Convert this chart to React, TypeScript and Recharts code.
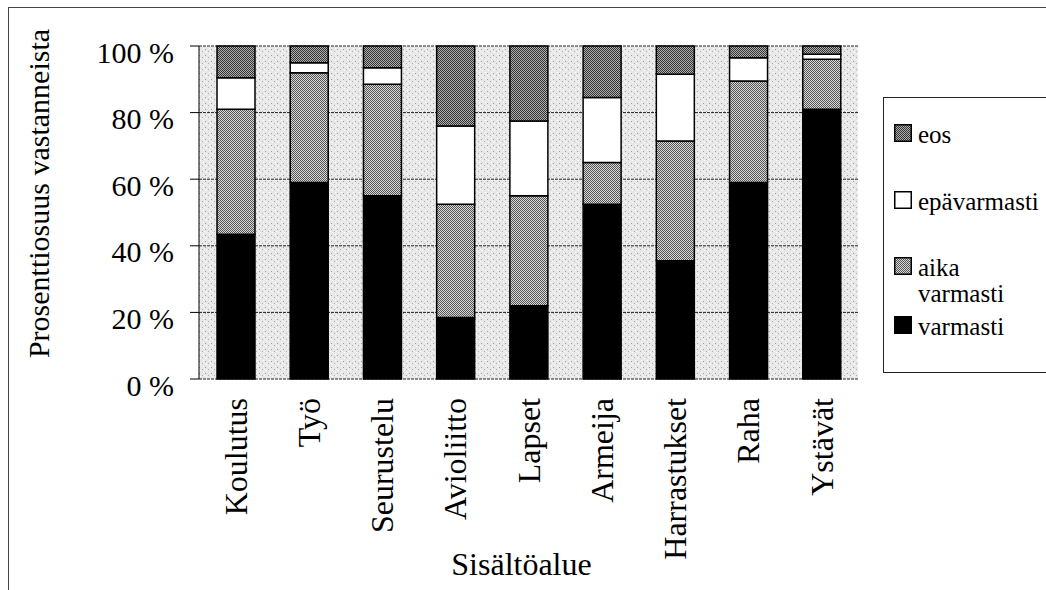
import React from "react";
import { Bar, BarChart, CartesianGrid, Label, Legend, ReferenceLine, XAxis, YAxis } from "recharts";

// Values (percent of respondents)
const categories = ["Koulutus", "Työ", "Seurustelu", "Avioliitto", "Lapset", "Armeija", "Harrastukset", "Raha", "Ystävät"];
const varmasti = [43.5, 59, 55, 18.5, 22, 52.5, 35.5, 59, 81];
const aikaVarmasti = [37.5, 33, 33.5, 34, 33, 12.5, 36, 30.5, 15];
const epavarmasti = [9.5, 3, 5, 23.5, 22.5, 19.5, 20, 7, 1.5];
const eos = [9.5, 5, 6.5, 24, 22.5, 15.5, 8.5, 3.5, 2.5];

const yTicks = [0, 20, 40, 60, 80, 100];
const boundaryTicks = [0, 1, 2, 3, 4, 5, 6, 7, 8, 9];
const legendOrder = ["eos", "epävarmasti", "aika varmasti", "varmasti"];

const FONT = "'Liberation Serif', 'Times New Roman', serif";

const data = categories.map((name, i) => ({
    name,
    varmasti: varmasti[i],
    aika: aikaVarmasti[i],
    epa: epavarmasti[i],
    eos: eos[i],
}));

// vertical centre of each legend row inside the box
const legendRowY = [36, 103, 169, 228];

function XTick({ x, y, payload }: any) {
    return (
        <text
            x={x}
            y={y}
            transform={`rotate(-90 ${x} ${y})`}
            textAnchor="end"
            dy="0.35em"
            fontSize={32}
            fontFamily={FONT}
            fill="#000"
        >
            {payload.value}
        </text>
    );
}

function YTick({ x, y, payload }: any) {
    return (
        <text x={x} y={y + 6} textAnchor="end" dy="0.35em" fontSize={30} fontFamily={FONT} fill="#000">
            {`${payload.value} %`}
        </text>
    );
}

function LegendBox({ payload }: any) {
    const items = [...(payload || [])].sort((a: any, b: any) => legendOrder.indexOf(a.value) - legendOrder.indexOf(b.value));
    return (
        <svg width={198} height={274} style={{ display: "block" }}>
            {items.map((item: any, i: number) => {
                const cy = legendRowY[i];
                const words = item.value === "aika varmasti" ? ["aika", "varmasti"] : [item.value];
                return (
                    <g key={item.value}>
                        <rect x={10.75} y={cy - 9.25} width={16.5} height={16.5} fill={item.payload.fill} stroke="#000" strokeWidth={1.5} />
                        {words.map((w, j) => (
                            <text key={w} x={34} y={cy + j * 26} dy="0.35em" fontSize={25} fontFamily={FONT} fill="#000">
                                {w}
                            </text>
                        ))}
                    </g>
                );
            })}
        </svg>
    );
}

export default function App() {
    return (
        <div style={{ position: "absolute", left: 0, top: 0, width: 1046, height: 590, overflow: "hidden", background: "#fff" }}>
            <div style={{ position: "absolute", left: 8, top: 7, width: 1100, height: 700, borderLeft: "1px solid #444", borderTop: "1px solid #444" }} />
            <BarChart
                width={1046}
                height={590}
                data={data}
                margin={{ top: 46, right: 188, bottom: 21, left: 0 }}
                barSize={38}
            >
                <defs>
                    <pattern id="speckle" width={6} height={6} patternUnits="userSpaceOnUse">
                        <rect width={6} height={6} fill="#e8e8e8" />
                        <rect x={1} y={1} width={1} height={1} fill="#a0a0a0" />
                        <rect x={4} y={3} width={1} height={1} fill="#b0b0b0" />
                        <rect x={2} y={4} width={1} height={1} fill="#ffffff" />
                        <rect x={5} y={0} width={1} height={1} fill="#ffffff" />
                        <rect x={0} y={3} width={1} height={1} fill="#f8f8f8" />
                    </pattern>
                    <pattern id="checkLight" width={2} height={2} patternUnits="userSpaceOnUse">
                        <rect width={2} height={2} fill="#d8d8d8" />
                        <rect x={0} y={0} width={1} height={1} fill="#555" />
                        <rect x={1} y={1} width={1} height={1} fill="#555" />
                    </pattern>
                    <pattern id="checkDark" width={2} height={2} patternUnits="userSpaceOnUse">
                        <rect width={2} height={2} fill="#b0b0b0" />
                        <rect x={0} y={0} width={1} height={1} fill="#333" />
                        <rect x={1} y={1} width={1} height={1} fill="#333" />
                    </pattern>
                </defs>
                <CartesianGrid
                    vertical={false}
                    fill="url(#speckle)"
                    stroke="#222"
                    strokeDasharray="3 1"
                    horizontalValues={yTicks}
                />
                <XAxis
                    xAxisId="grid"
                    type="number"
                    domain={[0, 9]}
                    allowDataOverflow
                    ticks={boundaryTicks}
                    tick={false}
                    tickSize={8}
                    height={0}
                    axisLine={{ stroke: "#000" }}
                    tickLine={{ stroke: "#000" }}
                />
                <XAxis
                    dataKey="name"
                    height={190}
                    axisLine={false}
                    tickLine={false}
                    tickSize={0}
                    tickMargin={19}
                    interval={0}
                    tick={<XTick />}
                >
                    <Label
                        content={({ viewBox }: any) => (
                            <text
                                x={viewBox.x + viewBox.width / 2 - 7}
                                y={viewBox.y + 196}
                                textAnchor="middle"
                                fontSize={32}
                                fontFamily={FONT}
                                fill="#000"
                            >
                                Sisältöalue
                            </text>
                        )}
                    />
                </XAxis>
                <YAxis
                    width={199}
                    domain={[0, 100]}
                    ticks={yTicks}
                    interval={0}
                    tickSize={9}
                    tickMargin={16}
                    axisLine={{ stroke: "#000" }}
                    tickLine={{ stroke: "#000" }}
                    tick={<YTick />}
                >
                    <Label
                        content={({ viewBox }: any) => {
                            const cx = 38;
                            const cy = viewBox.y + viewBox.height / 2 - 19;
                            return (
                                <text
                                    x={cx}
                                    y={cy}
                                    transform={`rotate(-90 ${cx} ${cy})`}
                                    textAnchor="middle"
                                    dy="0.35em"
                                    fontSize={30}
                                    fontFamily={FONT}
                                    fill="#000"
                                >
                                    Prosenttiosuus vastanneista
                                </text>
                            );
                        }}
                    />
                </YAxis>
                <ReferenceLine xAxisId="grid" x={9} stroke="#000" />
                <Bar dataKey="varmasti" name="varmasti" stackId="a" fill="#000" stroke="#000" strokeWidth={1.5} isAnimationActive={false} />
                <Bar dataKey="aika" name="aika varmasti" stackId="a" fill="url(#checkLight)" stroke="#000" strokeWidth={1.5} isAnimationActive={false} />
                <Bar dataKey="epa" name="epävarmasti" stackId="a" fill="#fff" stroke="#000" strokeWidth={1.5} isAnimationActive={false} />
                <Bar dataKey="eos" name="eos" stackId="a" fill="url(#checkDark)" stroke="#000" strokeWidth={1.5} isAnimationActive={false} />
                <Legend
                    layout="vertical"
                    align="center"
                    verticalAlign="middle"
                    content={<LegendBox />}
                    wrapperStyle={{
                        left: 883,
                        top: 97,
                        width: 200,
                        height: 276,
                        border: "1px solid #222",
                        background: "#fff",
                        boxSizing: "border-box",
                    }}
                />
            </BarChart>
        </div>
    );
}
